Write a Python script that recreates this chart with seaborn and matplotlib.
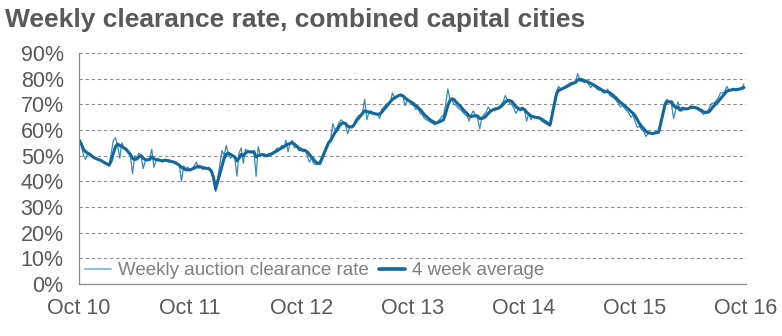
import numpy as np
import pandas as pd
import matplotlib
matplotlib.use("Agg")
import matplotlib.pyplot as plt
from matplotlib.ticker import MultipleLocator, PercentFormatter
import seaborn as sns

nan = np.nan

# Weekly auction clearance rate (%), one value per week from 2 Oct 2010;
# nan marks the holiday weeks with no auction results.
weekly_2010_11 = [56.5, 54, 50, 48.5, 51, 50, 49.5, 49, 48.8, 48.5, 48, 47.5, nan,
                  nan, 46.5, 51, 56, 57, 54, 49, 55, 53, 52, 51, 50, 43,
                  50, 49, 51, 50, 45, 48, 48.5, 49, 52.5, 45.5, 48, 49, 48,
                  47.5, 48.5, 48, 47.5, 48, 47.5, 47, 46.5, 46, 40, 46, 45, 45.5]
weekly_2011_12 = [44, 45, 46, 47.5, 45, 46, 44.5, 45.5, 45, 45.5, 44, 42, 36,
                  nan, nan, 52, 50, 54, 50.5, 49, 50, 49, 42, 51, 53, 47,
                  52.5, 52, 51.5, 51, 52, 42, 53.5, 50, 50.5, 49.5, 50, 51, 50.5,
                  51.5, 52, 53, 52.5, 54, 53, 56, 51.5, 55, 56, 53, 53.5, 52]
weekly_2012_13 = [52, 51.5, 52.5, 50, 47.5, 49, 47, 46.5, 47, 48, nan, nan, nan,
                  55.5, 56.5, 62.5, 60, 61, 63, 64, 63, 62, 58.5, 61.5, 61, 62.5,
                  64.5, 65.5, 66, 67, 72, 64, 67, 67.5, 66, 66.5, 66, 64.5, 68,
                  69, 70, 70.5, 71, 74.5, 72.5, 73, 73.5, 74, 73, 69.5, 72, 71]
weekly_2013_14 = [70, 69.5, 68, 68.5, 66.5, 66, 64.5, 64, 63.5, 63, 62.5, 62, 63,
                  nan, nan, 66, 70, 76, 72, 71.5, 70, 69.5, 68.5, 68, 67, 66,
                  65.5, 63.5, 66, 67.5, 65.5, 64.5, 60.5, 65, 66, 67, 69, 67.5, 68,
                  68.5, 68.5, 69, 70, 71, 73.5, 71.5, 70.5, 70, 68.5, 66.5, 68, 67.5]
weekly_2014_15 = [68, 67.5, 63.5, 66.5, 64, 65.5, 65, 64.5, 64.5, 63.5, 63, 62.5, 62,
                  61.5, nan, nan, 75, 77, 76, 76.5, 77, 77.5, 78, 78.5, 78.5, 79,
                  82, 79, 79, 78.5, 79, 78, 76.5, 77.5, 77, 76, 75.5, 75.5, 74.5,
                  74.5, 76, 73.5, 73, 72.5, 71.5, 70.5, 69, 69.5, 68.5, 67.5, 66.5, 65]
weekly_2015_16 = [66, 63, 61, 61.5, 60, 59.5, 57.5, 58.5, 59, 58.5, 59, 59.5, 59.5,
                  nan, nan, 71, 72, 71, 70, 64.5, 68, 71, 67.5, 67.5, 68, 68,
                  68.5, 69.5, 68.5, 68.5, 68, 67.5, 67, 66, 67, 67.5, 69, 70.5, 70.5,
                  71.5, 72.5, 74.5, 74.5, 75, 77, 75.5, 75.5, 75.5, 76, 76, 76, 76.5, 78]

# 4 week average clearance rate (%), same weeks
avg_2010_11 = [56, 54.5, 52.5, 51.5, 51, 50.5, 49.8, 49.2, 48.8, 48.5, 48.2, 47.7, nan,
               nan, 46.3, 48, 51, 53.5, 54.5, 54, 53.5, 53, 52.5, 51.5, 50.5, 49,
               48.5, 48.7, 49.5, 50, 49, 48.5, 48.3, 48.5, 49.5, 48.8, 48.5, 48.3, 48.2,
               48, 48.2, 48.2, 48, 47.8, 47.6, 47.3, 46.8, 46.3, 45.5, 45, 44.5, 44.5]
avg_2011_12 = [44.5, 44.8, 45.2, 45.6, 45.8, 45.6, 45.3, 45.2, 45, 44.8, 44, 41.5, 37,
               nan, nan, 46, 49, 50.5, 51, 50.5, 50, 49.5, 48, 49, 50.5, 50,
               51, 51.5, 51.5, 51.5, 51.5, 49.5, 50, 50.2, 50.5, 50.2, 50, 50.2, 50.6,
               51, 51.5, 52, 52.5, 53, 53.5, 54, 54.5, 54.8, 55, 54.5, 53.8, 53]
avg_2012_13 = [52.5, 52.2, 52, 51.5, 50.5, 49.5, 48.5, 47.5, 47, 47, nan, nan, nan,
               55, 55.8, 57.5, 59, 60, 61.5, 62.5, 62.8, 62.5, 61.5, 61.2, 61.2, 62,
               63.5, 64.5, 65.5, 66.5, 67.5, 67.2, 67, 66.8, 66.5, 66.3, 66.2, 66.2, 67,
               68, 69, 70, 71, 72, 72.5, 73, 73.5, 73.6, 73.3, 72.5, 71.8, 71.3]
avg_2013_14 = [70.8, 70.2, 69.5, 68.8, 68, 67, 66, 65.2, 64.5, 63.8, 63.3, 62.8, 62.8,
               nan, nan, 64, 66.5, 69.5, 71.5, 72.2, 71.8, 70.8, 70, 69.2, 68.2, 67.2,
               66.5, 65.5, 65.2, 65.5, 65.6, 65.5, 64.5, 64.5, 64.8, 65.5, 66.5, 67.3, 67.8,
               68.1, 68.3, 68.6, 69.2, 70, 71, 71.5, 71.5, 71.2, 70.2, 69, 68.5, 68]
avg_2014_15 = [68.5, 68, 67, 66.2, 65.5, 65.2, 65, 64.9, 64.7, 64.3, 63.7, 63.2, 62.5,
               62, nan, nan, 74, 75.5, 75.8, 76.2, 76.6, 77, 77.5, 78, 78.3, 78.6,
               79.5, 79.8, 79.6, 79.3, 79, 78.7, 78.2, 77.8, 77.3, 76.8, 76.3, 75.8, 75.3,
               75, 75, 74.5, 74, 73.2, 72.5, 71.6, 70.8, 70.2, 69.5, 68.7, 68, 67.2]
avg_2015_16 = [66.5, 65.5, 64, 62.5, 61.3, 60.5, 59.5, 59, 58.8, 58.6, 58.8, 59, 59.2,
               nan, nan, 70, 71, 71, 71, 69.5, 68.8, 68.8, 67.8, 68.5, 68.4, 68.2,
               68.4, 68.8, 68.9, 68.8, 68.6, 68.1, 67.7, 67.1, 66.9, 66.9, 67.4, 68.5, 69.5,
               70.4, 71.2, 72.2, 73.2, 74.1, 75.2, 75.4, 75.6, 75.9, 75.7, 75.8, 76, 76.2, 76.6]

tick_years = [2010, 2011, 2012, 2013, 2014, 2015, 2016]
tick_labels = ["Oct 10", "Oct 11", "Oct 12", "Oct 13", "Oct 14", "Oct 15", "Oct 16"]

weekly = (weekly_2010_11 + weekly_2011_12 + weekly_2012_13 +
          weekly_2013_14 + weekly_2014_15 + weekly_2015_16)
average = (avg_2010_11 + avg_2011_12 + avg_2012_13 +
           avg_2013_14 + avg_2014_15 + avg_2015_16)
weeks = pd.date_range("2010-10-02", periods=len(weekly), freq="7D")
df = pd.DataFrame({"week": weeks, "weekly": weekly, "average": average})

sns.set_style("white")
plt.rcParams["font.family"] = ["Liberation Sans", "DejaVu Sans"]

grey = "#595959"
fig = plt.figure(figsize=(7.82, 3.36), dpi=100)
ax = fig.add_axes([0.101, 0.155, 0.853, 0.687])

w = df.dropna(subset=["weekly"])
a = df.dropna(subset=["average"])
sns.lineplot(data=w, x="week", y="weekly", ax=ax, color="#3a88bc", lw=0.9,
             label="Weekly auction clearance rate")
sns.lineplot(data=a, x="week", y="average", ax=ax, color="#14679a", lw=2.2,
             label="4 week average")
# the legend swatch for the weekly series is drawn in a pale blue
leg = ax.legend(loc="lower left", bbox_to_anchor=(-0.005, -0.02), ncol=2, frameon=False,
                fontsize=13.5, handlelength=1.4, handletextpad=0.35, columnspacing=0.55,
                labelcolor="#7f7f7f", borderaxespad=0.2, borderpad=0.3)
leg.get_lines()[0].set_color("#8cbfe0")
leg.get_lines()[0].set_linewidth(1.4)
leg.get_lines()[1].set_linewidth(2.6)

ax.set_xlim(pd.Timestamp("2010-10-01"), pd.Timestamp("2016-10-01"))
ax.set_ylim(0, 90)
ax.set_xticks([pd.Timestamp(f"{y}-10-01") for y in tick_years])
ax.set_xticklabels(tick_labels)
ax.yaxis.set_major_locator(MultipleLocator(10))
ax.yaxis.set_major_formatter(PercentFormatter(decimals=0))
ax.set_xlabel("")
ax.set_ylabel("")

ax.grid(axis="y", color="#8c8c8c", linestyle=(0, (3, 2.5)), linewidth=0.8)
ax.grid(axis="x", visible=False)
for s in ["top", "right"]:
    ax.spines[s].set_visible(False)
for s in ["left", "bottom"]:
    ax.spines[s].set_color("#8c8c8c")
    ax.spines[s].set_linewidth(0.9)
ax.tick_params(axis="both", colors="#8c8c8c", labelcolor=grey, labelsize=15.5,
               direction="out", length=5, width=0.9)
ax.tick_params(axis="x", pad=5)
ax.tick_params(axis="y", pad=6)

fig.text(0.006, 0.975, "Weekly clearance rate, combined capital cities",
         fontsize=19, fontweight="bold", color=grey, va="top", ha="left")

fig.savefig("out.png", dpi=100)
